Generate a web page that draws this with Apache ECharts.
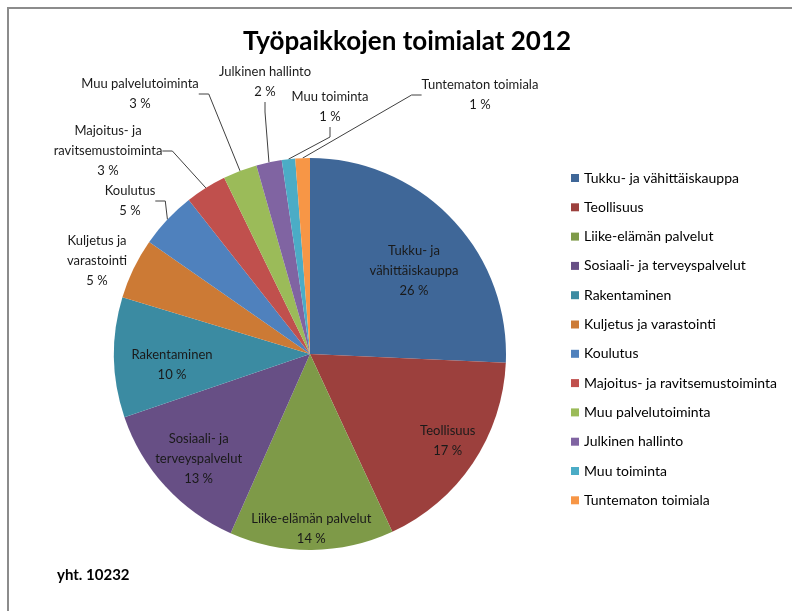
<!DOCTYPE html>
<html>
<head>
<meta charset="utf-8">
<script src="https://cdn.jsdelivr.net/npm/echarts@6/dist/echarts.min.js"></script>
<style>
    html, body { margin: 0; padding: 0; background: #fff; }
    #main { width: 792px; height: 611px; }
</style>
</head>
<body>
<div id="main"></div>
<script>
// data (yht. 10232)
var names = ['Tukku- ja vähittäiskauppa', 'Teollisuus', 'Liike-elämän palvelut', 'Sosiaali- ja terveyspalvelut',
    'Rakentaminen', 'Kuljetus ja varastointi', 'Koulutus', 'Majoitus- ja ravitsemustoiminta',
    'Muu palvelutoiminta', 'Julkinen hallinto', 'Muu toiminta', 'Tuntematon toimiala'];
var labelNames = ['Tukku- ja\nvähittäiskauppa', 'Teollisuus', 'Liike-elämän palvelut', 'Sosiaali- ja\nterveyspalvelut',
    'Rakentaminen', 'Kuljetus ja\nvarastointi', 'Koulutus', 'Majoitus- ja\nravitsemustoiminta',
    'Muu palvelutoiminta', 'Julkinen hallinto', 'Muu toiminta', 'Tuntematon toimiala'];
var values = [2630, 1780, 1385, 1345, 1013, 512, 481, 348, 287, 215, 113, 123];

var myColor = ['#3f6798', '#9c403d', '#7e9a48', '#674f85', '#3b8ba2', '#cc7a35',
    '#4f81bd', '#c0504d', '#9bbb59', '#8064a2', '#4bacc6', '#f79646'];
var insideCount = 5;
var fontFam = 'Lato, "Liberation Sans", sans-serif';

// where the small slices' labels sit (label centre), like the Excel chart
var labelPos = [null, null, null, null, null,
    [97, 261], [130, 201], [108, 151], [140, 94], [265, 82], [330, 107], [480, 95]];
// small nudges for the labels drawn inside slices
var insideShift = [[-8, 24], [9, 0], [0, 20], [3, 0], [17, 8]];

var total = 0;
for (var i = 0; i < values.length; i++) total += values[i];

var myChart = echarts.init(document.getElementById('main'));

var pieData = [];
var labelData = [];
for (var k = 0; k < names.length; k++) {
    var outside = k >= insideCount;
    pieData.push({
        name: names[k],
        value: values[k],
        itemStyle: { color: myColor[k] },
        label: { show: outside },
        labelLine: { show: outside && k != 5 }
    });
    labelData.push({
        name: names[k],
        value: values[k],
        itemStyle: { color: 'rgba(0,0,0,0)' },
        label: { show: !outside }
    });
}

var labelFmt = function (p) {
    return labelNames[p.dataIndex] + '\n' + p.percent + ' %';
};

option = {
    backgroundColor: '#fff',
    title: {
        text: 'Työpaikkojen toimialat 2012',
        left: 402,
        textAlign: 'center',
        top: 24,
        textStyle: {
            fontFamily: fontFam,
            fontSize: 26,
            fontWeight: 'bold',
            color: '#000'
        }
    },
    legend: {
        orient: 'vertical',
        left: 566,
        top: 166,
        itemWidth: 8,
        itemHeight: 8,
        itemGap: 15.3,
        icon: 'rect',
        data: names,
        selectedMode: false,
        textStyle: {
            fontFamily: fontFam,
            fontSize: 14,
            lineHeight: 14,
            color: '#000'
        }
    },
    graphic: [{
        type: 'rect',
        shape: { x: 8, y: 8, width: 800, height: 620 },
        style: { fill: 'none', stroke: '#8c8c8c', lineWidth: 2 },
        silent: true
    }, {
        type: 'text',
        left: 57,
        top: 568,
        style: {
            text: 'yht. ' + total,
            font: 'bold 15px ' + fontFam,
            fill: '#000'
        }
    }],
    series: [{
        name: 'toimialat',
        type: 'pie',
        center: [310, 354],
        radius: 196,
        startAngle: 90,
        clockwise: true,
        percentPrecision: 0,
        avoidLabelOverlap: false,
        emphasis: { disabled: true },
        data: pieData,
        label: {
            position: 'outside',
            formatter: labelFmt,
            fontFamily: fontFam,
            fontSize: 13,
            lineHeight: 20,
            color: '#1a1a1a',
            align: 'center',
            overflow: 'none'
        },
        labelLine: {
            length: 14,
            length2: 10,
            lineStyle: { color: '#404040', width: 1 }
        },
        labelLayout: function (p) {
            var pos = labelPos[p.dataIndex];
            if (!pos) return {};
            return { x: pos[0], y: pos[1], align: 'center', verticalAlign: 'middle' };
        },
        z: 1
    }, {
        name: 'nimet',
        type: 'pie',
        center: [310, 354],
        radius: [108, 196],
        startAngle: 90,
        clockwise: true,
        percentPrecision: 0,
        silent: true,
        emphasis: { disabled: true },
        data: labelData,
        label: {
            position: 'inside',
            formatter: labelFmt,
            fontFamily: fontFam,
            fontSize: 13,
            lineHeight: 20,
            color: '#1a1a1a'
        },
        labelLine: { show: false },
        labelLayout: function (p) {
            var s = insideShift[p.dataIndex];
            if (!s) return {};
            return { dx: s[0], dy: s[1] };
        },
        z: 2
    }]
};
myChart.setOption(option);
</script>
</body>
</html>
